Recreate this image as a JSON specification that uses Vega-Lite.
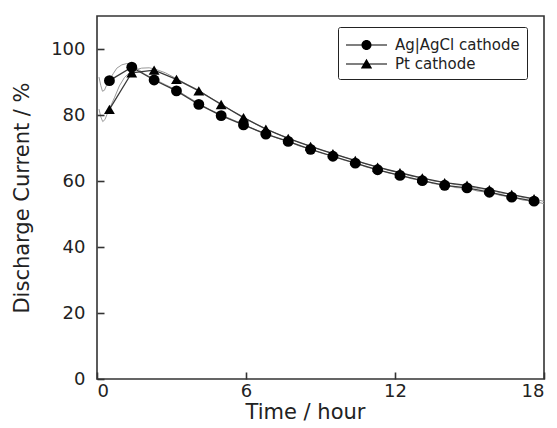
{
  "$schema": "https://vega.github.io/schema/vega-lite/v6.json",
  "width": 447,
  "height": 363,
  "autosize": {"type": "none"},
  "padding": {"left": 97, "top": 16, "right": 13, "bottom": 49},
  "background": "white",
  "config": {
    "font": "DejaVu Sans",
    "view": {"stroke": "#333", "strokeWidth": 1.6, "fill": null}
  },
  "resolve": {"scale": {"shape": "independent"}, "legend": {"shape": "independent"}},
  "datasets": {
    "raw": [
      {"t": 0.08, "v": 91.5, "s": "Ag|AgCl cathode"}, {"t": 0.15, "v": 89.0, "s": "Ag|AgCl cathode"}, {"t": 0.22, "v": 87.2, "s": "Ag|AgCl cathode"}, {"t": 0.3, "v": 87.5, "s": "Ag|AgCl cathode"}, {"t": 0.4, "v": 89.3, "s": "Ag|AgCl cathode"}, {"t": 0.5, "v": 90.6, "s": "Ag|AgCl cathode"}, {"t": 0.65, "v": 92.5, "s": "Ag|AgCl cathode"}, {"t": 0.8, "v": 94.2, "s": "Ag|AgCl cathode"}, {"t": 1.0, "v": 95.2, "s": "Ag|AgCl cathode"}, {"t": 1.2, "v": 95.6, "s": "Ag|AgCl cathode"}, {"t": 1.4, "v": 95.3, "s": "Ag|AgCl cathode"}, {"t": 1.6, "v": 94.2, "s": "Ag|AgCl cathode"}, {"t": 1.9, "v": 92.5, "s": "Ag|AgCl cathode"}, {"t": 2.3, "v": 90.9, "s": "Ag|AgCl cathode"}, {"t": 2.75, "v": 89.2, "s": "Ag|AgCl cathode"}, {"t": 3.2, "v": 87.6, "s": "Ag|AgCl cathode"}, {"t": 3.65, "v": 85.5, "s": "Ag|AgCl cathode"}, {"t": 4.1, "v": 83.5, "s": "Ag|AgCl cathode"}, {"t": 4.55, "v": 81.6, "s": "Ag|AgCl cathode"}, {"t": 5.0, "v": 80.1, "s": "Ag|AgCl cathode"}, {"t": 5.45, "v": 78.6, "s": "Ag|AgCl cathode"}, {"t": 5.9, "v": 77.2, "s": "Ag|AgCl cathode"}, {"t": 6.35, "v": 75.6, "s": "Ag|AgCl cathode"}, {"t": 6.8, "v": 74.4, "s": "Ag|AgCl cathode"}, {"t": 7.25, "v": 73.0, "s": "Ag|AgCl cathode"}, {"t": 7.7, "v": 72.0, "s": "Ag|AgCl cathode"}, {"t": 8.15, "v": 70.6, "s": "Ag|AgCl cathode"}, {"t": 8.6, "v": 69.7, "s": "Ag|AgCl cathode"}, {"t": 9.05, "v": 68.4, "s": "Ag|AgCl cathode"}, {"t": 9.5, "v": 67.5, "s": "Ag|AgCl cathode"}, {"t": 9.95, "v": 66.3, "s": "Ag|AgCl cathode"}, {"t": 10.4, "v": 65.5, "s": "Ag|AgCl cathode"}, {"t": 10.85, "v": 64.2, "s": "Ag|AgCl cathode"}, {"t": 11.3, "v": 63.5, "s": "Ag|AgCl cathode"}, {"t": 11.75, "v": 62.4, "s": "Ag|AgCl cathode"}, {"t": 12.2, "v": 61.8, "s": "Ag|AgCl cathode"}, {"t": 12.65, "v": 60.7, "s": "Ag|AgCl cathode"}, {"t": 13.1, "v": 60.2, "s": "Ag|AgCl cathode"}, {"t": 13.55, "v": 59.2, "s": "Ag|AgCl cathode"}, {"t": 14.0, "v": 58.8, "s": "Ag|AgCl cathode"}, {"t": 14.45, "v": 58.0, "s": "Ag|AgCl cathode"}, {"t": 14.9, "v": 57.8, "s": "Ag|AgCl cathode"}, {"t": 15.35, "v": 56.9, "s": "Ag|AgCl cathode"}, {"t": 15.8, "v": 56.6, "s": "Ag|AgCl cathode"}, {"t": 16.25, "v": 55.6, "s": "Ag|AgCl cathode"}, {"t": 16.7, "v": 55.2, "s": "Ag|AgCl cathode"}, {"t": 17.15, "v": 54.2, "s": "Ag|AgCl cathode"}, {"t": 17.6, "v": 53.9, "s": "Ag|AgCl cathode"}, {"t": 18.0, "v": 53.1, "s": "Ag|AgCl cathode"},
      {"t": 0.08, "v": 81.8, "s": "Pt cathode"}, {"t": 0.15, "v": 79.5, "s": "Pt cathode"}, {"t": 0.23, "v": 78.0, "s": "Pt cathode"}, {"t": 0.32, "v": 78.6, "s": "Pt cathode"}, {"t": 0.42, "v": 80.5, "s": "Pt cathode"}, {"t": 0.5, "v": 81.9, "s": "Pt cathode"}, {"t": 0.7, "v": 85.2, "s": "Pt cathode"}, {"t": 0.9, "v": 88.8, "s": "Pt cathode"}, {"t": 1.1, "v": 91.3, "s": "Pt cathode"}, {"t": 1.3, "v": 92.8, "s": "Pt cathode"}, {"t": 1.5, "v": 93.6, "s": "Pt cathode"}, {"t": 1.8, "v": 94.2, "s": "Pt cathode"}, {"t": 2.1, "v": 94.3, "s": "Pt cathode"}, {"t": 2.3, "v": 94.0, "s": "Pt cathode"}, {"t": 2.75, "v": 92.8, "s": "Pt cathode"}, {"t": 3.2, "v": 91.0, "s": "Pt cathode"}, {"t": 3.65, "v": 89.2, "s": "Pt cathode"}, {"t": 4.1, "v": 87.5, "s": "Pt cathode"}, {"t": 4.55, "v": 85.3, "s": "Pt cathode"}, {"t": 5.0, "v": 83.4, "s": "Pt cathode"}, {"t": 5.45, "v": 81.2, "s": "Pt cathode"}, {"t": 5.9, "v": 79.4, "s": "Pt cathode"}, {"t": 6.35, "v": 77.4, "s": "Pt cathode"}, {"t": 6.8, "v": 75.9, "s": "Pt cathode"}, {"t": 7.25, "v": 74.3, "s": "Pt cathode"}, {"t": 7.7, "v": 73.0, "s": "Pt cathode"}, {"t": 8.15, "v": 71.6, "s": "Pt cathode"}, {"t": 8.6, "v": 70.6, "s": "Pt cathode"}, {"t": 9.05, "v": 69.3, "s": "Pt cathode"}, {"t": 9.5, "v": 68.4, "s": "Pt cathode"}, {"t": 9.95, "v": 67.2, "s": "Pt cathode"}, {"t": 10.4, "v": 66.3, "s": "Pt cathode"}, {"t": 10.85, "v": 65.1, "s": "Pt cathode"}, {"t": 11.3, "v": 64.3, "s": "Pt cathode"}, {"t": 11.75, "v": 63.2, "s": "Pt cathode"}, {"t": 12.2, "v": 62.6, "s": "Pt cathode"}, {"t": 12.65, "v": 61.5, "s": "Pt cathode"}, {"t": 13.1, "v": 61.0, "s": "Pt cathode"}, {"t": 13.55, "v": 60.0, "s": "Pt cathode"}, {"t": 14.0, "v": 59.6, "s": "Pt cathode"}, {"t": 14.45, "v": 58.9, "s": "Pt cathode"}, {"t": 14.9, "v": 58.6, "s": "Pt cathode"}, {"t": 15.35, "v": 57.7, "s": "Pt cathode"}, {"t": 15.8, "v": 57.4, "s": "Pt cathode"}, {"t": 16.25, "v": 56.4, "s": "Pt cathode"}, {"t": 16.7, "v": 56.0, "s": "Pt cathode"}, {"t": 17.15, "v": 55.0, "s": "Pt cathode"}, {"t": 17.6, "v": 54.6, "s": "Pt cathode"}, {"t": 18.0, "v": 53.8, "s": "Pt cathode"}
    ],
    "markers": [
      {"t": 0.5, "v": 90.4, "s": "Ag|AgCl cathode"}, {"t": 1.4, "v": 94.5, "s": "Ag|AgCl cathode"}, {"t": 2.3, "v": 90.6, "s": "Ag|AgCl cathode"}, {"t": 3.2, "v": 87.3, "s": "Ag|AgCl cathode"}, {"t": 4.1, "v": 83.2, "s": "Ag|AgCl cathode"}, {"t": 5.0, "v": 79.8, "s": "Ag|AgCl cathode"}, {"t": 5.9, "v": 77.0, "s": "Ag|AgCl cathode"}, {"t": 6.8, "v": 74.2, "s": "Ag|AgCl cathode"}, {"t": 7.7, "v": 72.0, "s": "Ag|AgCl cathode"}, {"t": 8.6, "v": 69.6, "s": "Ag|AgCl cathode"}, {"t": 9.5, "v": 67.5, "s": "Ag|AgCl cathode"}, {"t": 10.4, "v": 65.4, "s": "Ag|AgCl cathode"}, {"t": 11.3, "v": 63.4, "s": "Ag|AgCl cathode"}, {"t": 12.2, "v": 61.7, "s": "Ag|AgCl cathode"}, {"t": 13.1, "v": 60.1, "s": "Ag|AgCl cathode"}, {"t": 14.0, "v": 58.7, "s": "Ag|AgCl cathode"}, {"t": 14.9, "v": 57.9, "s": "Ag|AgCl cathode"}, {"t": 15.8, "v": 56.6, "s": "Ag|AgCl cathode"}, {"t": 16.7, "v": 55.1, "s": "Ag|AgCl cathode"}, {"t": 17.6, "v": 53.9, "s": "Ag|AgCl cathode"},
      {"t": 0.5, "v": 81.7, "s": "Pt cathode"}, {"t": 1.4, "v": 92.8, "s": "Pt cathode"}, {"t": 2.3, "v": 93.6, "s": "Pt cathode"}, {"t": 3.2, "v": 90.8, "s": "Pt cathode"}, {"t": 4.1, "v": 87.3, "s": "Pt cathode"}, {"t": 5.0, "v": 83.2, "s": "Pt cathode"}, {"t": 5.9, "v": 79.2, "s": "Pt cathode"}, {"t": 6.8, "v": 75.7, "s": "Pt cathode"}, {"t": 7.7, "v": 72.9, "s": "Pt cathode"}, {"t": 8.6, "v": 70.5, "s": "Pt cathode"}, {"t": 9.5, "v": 68.3, "s": "Pt cathode"}, {"t": 10.4, "v": 66.2, "s": "Pt cathode"}, {"t": 11.3, "v": 64.2, "s": "Pt cathode"}, {"t": 12.2, "v": 62.5, "s": "Pt cathode"}, {"t": 13.1, "v": 60.9, "s": "Pt cathode"}, {"t": 14.0, "v": 59.5, "s": "Pt cathode"}, {"t": 14.9, "v": 58.7, "s": "Pt cathode"}, {"t": 15.8, "v": 57.4, "s": "Pt cathode"}, {"t": 16.7, "v": 55.9, "s": "Pt cathode"}, {"t": 17.6, "v": 54.6, "s": "Pt cathode"}
    ]
  },
  "encoding": {
    "x": {
      "field": "t", "type": "quantitative",
      "scale": {"domain": [0, 18], "nice": false},
      "axis": {
        "values": [0, 6, 12, 18], "title": "Time / hour",
        "domain": false, "grid": false, "ticks": true, "offset": -7, "tickSize": 7, "tickWidth": 1.6, "tickColor": "#333", "tickOpacity": 1, "zindex": 2,
        "labelFont": "DejaVu Sans", "labelFontSize": 18, "labelColor": "#222", "labelPadding": 3,
        "titleFont": "DejaVu Sans", "titleFontSize": 21, "titleFontWeight": "normal", "titleColor": "#222",
        "titlePadding": 1, "titleX": 208
      }
    },
    "y": {
      "field": "v", "type": "quantitative",
      "scale": {"domain": [0, 110], "nice": false},
      "axis": {
        "values": [0, 20, 40, 60, 80, 100], "title": "Discharge Current / %",
        "domain": false, "grid": false, "ticks": true, "offset": -7, "tickSize": 7, "tickWidth": 1.6, "tickColor": "#333", "tickOpacity": 1, "zindex": 2,
        "labelFont": "DejaVu Sans", "labelFontSize": 18, "labelColor": "#222", "labelPadding": 12,
        "titleFont": "DejaVu Sans", "titleFontSize": 21, "titleFontWeight": "normal", "titleColor": "#222",
        "titlePadding": 18
      }
    }
  },
  "layer": [
    {
      "data": {"name": "raw"},
      "mark": {"type": "line", "color": "#9a9a9a", "strokeWidth": 1, "clip": true},
      "encoding": {"detail": {"field": "s"}}
    },
    {
      "data": {"name": "markers"},
      "mark": {"type": "line", "color": "#3a3a3a", "strokeWidth": 1.3},
      "encoding": {"detail": {"field": "s"}}
    },
    {
      "data": {"name": "markers"},
      "mark": {"type": "point", "filled": true, "color": "#000", "opacity": 0},
      "encoding": {
        "shape": {
          "field": "s", "type": "nominal",
          "scale": {
            "domain": ["Ag|AgCl cathode", "Pt cathode"],
            "range": [
              "M-1,-0.05L3.1,-0.05L3.1,0.05L-1,0.05Z M1.55,0A0.5,0.5,0,1,1,0.55,0A0.5,0.5,0,1,1,1.55,0Z",
              "M-1,-0.05L3.1,-0.05L3.1,0.05L-1,0.05Z M1.05,-0.52L1.62,0.45L0.48,0.45Z"
            ]
          },
          "legend": {
            "title": null,
            "orient": "none",
            "legendX": 241,
            "legendY": 11,
            "direction": "vertical",
            "padding": 7,
            "fillColor": "white",
            "strokeColor": "#222",
            "cornerRadius": 2,
            "labelFont": "DejaVu Sans",
            "labelFontSize": 15,
            "labelColor": "#222",
            "labelOffset": 28,
            "rowPadding": 0,
            "symbolSize": 400,
            "symbolOpacity": 1,
            "encode": {
              "symbols": {
                "fill": {"value": "#000"},
                "opacity": {"value": 1}
              },
              "legend": {
                "strokeWidth": {"value": 1.6}
              }
            }
          }
        }
      }
    },
    {
      "data": {"name": "markers"},
      "mark": {"type": "point", "filled": true, "color": "#000", "opacity": 1, "size": 118},
      "encoding": {
        "shape": {
          "field": "s", "type": "nominal",
          "scale": {"domain": ["Ag|AgCl cathode", "Pt cathode"], "range": ["circle", "triangle-up"]},
          "legend": null
        }
      }
    }
  ]
}
